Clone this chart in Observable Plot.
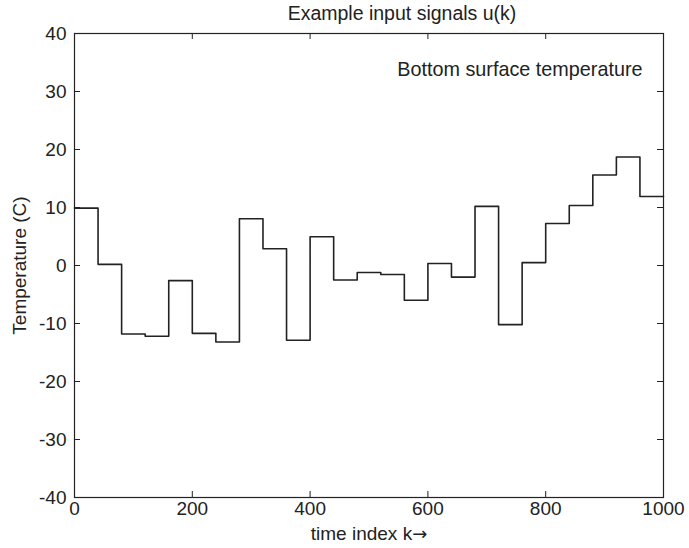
<!DOCTYPE html>
<html>
<head>
<meta charset="utf-8">
<script src="https://cdn.jsdelivr.net/npm/d3@7"></script>
<script src="https://cdn.jsdelivr.net/npm/@observablehq/plot@0.6"></script>
<style>
  html, body { margin: 0; padding: 0; background: #fff; }
  body { width: 689px; height: 548px; overflow: hidden; font-family: "Liberation Sans", Arial, Helvetica, sans-serif; color: #222; }
  #title { position: relative; height: 24px; line-height: 26px; font-size: 19.5px; }
  #title span { position: absolute; left: 402px; transform: translateX(-50%); white-space: nowrap; }
  svg { display: block; }
</style>
</head>
<body>
<div id="title"><span>Example input signals u(k)</span></div>
<div id="chart"></div>
<script>
// Step starts (time index k) and the held temperature value of each step
const stepStart = [0, 40, 80, 120, 160, 200, 240, 280, 320, 360, 400, 440, 480, 520, 560, 600, 640, 680, 720, 760, 800, 840, 880, 920, 960];
const stepValue = [9.9, 0.2, -11.8, -12.2, -2.6, -11.7, -13.2, 8.05, 2.9, -12.9, 4.95, -2.5, -1.2, -1.55, -6.0, 0.35, -2.0, 10.2, -10.2, 0.5, 7.25, 10.35, 15.6, 18.7, 11.9];
const signalEnd = 1000;

const xTicks = [0, 200, 400, 600, 800, 1000];
const yTicks = [-40, -30, -20, -10, 0, 10, 20, 30, 40];
const annotation = "Bottom surface temperature";
const xLabel = "time index k\u2192";
const yLabel = "Temperature (C)";

const signal = stepStart.map((k, i) => ({k, u: stepValue[i]}));
signal.push({k: signalEnd, u: stepValue[stepValue.length - 1]});

const W = 689, H = 524, mT = 9, mL = 74, mR = 26, mB = 51;
const frameW = W - mL - mR, frameH = H - mT - mB, tickLen = 6;
const ink = "#222";

const chart = Plot.plot({
  width: W,
  height: H,
  marginTop: mT,
  marginLeft: mL,
  marginRight: mR,
  marginBottom: mB,
  style: {fontFamily: '"Liberation Sans", Arial, Helvetica, sans-serif', fontSize: "19px", color: ink, background: "#fff"},
  x: {domain: [0, 1000]},
  y: {domain: [-40, 40]},
  marks: [
    Plot.frame({stroke: ink, strokeWidth: 1.2}),
    // inward ticks on all four sides
    Plot.ruleX(xTicks, {x: d => d, insetTop: frameH - tickLen, stroke: ink}),
    Plot.ruleX(xTicks, {x: d => d, insetBottom: frameH - tickLen, stroke: ink}),
    Plot.ruleY(yTicks, {y: d => d, insetRight: frameW - tickLen, stroke: ink}),
    Plot.ruleY(yTicks, {y: d => d, insetLeft: frameW - tickLen, stroke: ink}),
    Plot.axisX(xTicks, {anchor: "bottom", tickSize: 0, tickPadding: 4, tickFormat: d => String(d), label: xLabel, labelAnchor: "center", labelArrow: "none", labelOffset: 42, fill: ink}),
    Plot.axisY(yTicks, {anchor: "left", tickSize: 0, tickPadding: 8, tickFormat: d => String(d), label: yLabel, labelAnchor: "center", labelArrow: "none", labelOffset: 62, fill: ink}),
    Plot.line(signal, {x: "k", y: "u", curve: "step-after", stroke: ink, strokeWidth: 1.6}),
    Plot.text([annotation], {frameAnchor: "top-right", dx: -21, dy: 36, lineAnchor: "middle", textAnchor: "end", fill: ink, fontSize: 19.8})
  ]
});

// render the arrow of the x label with a font whose arrow glyph is full size
d3.select(chart).selectAll("text").each(function () {
  const t = d3.select(this);
  const s = t.text();
  if (s === xLabel) {
    t.text("");
    t.append("tspan").text(s.slice(0, -1));
    t.append("tspan").style("font-family", '"DejaVu Sans"').style("font-size", "18px").text(s.slice(-1));
  }
});

document.getElementById("chart").appendChild(chart);
</script>
</body>
</html>
